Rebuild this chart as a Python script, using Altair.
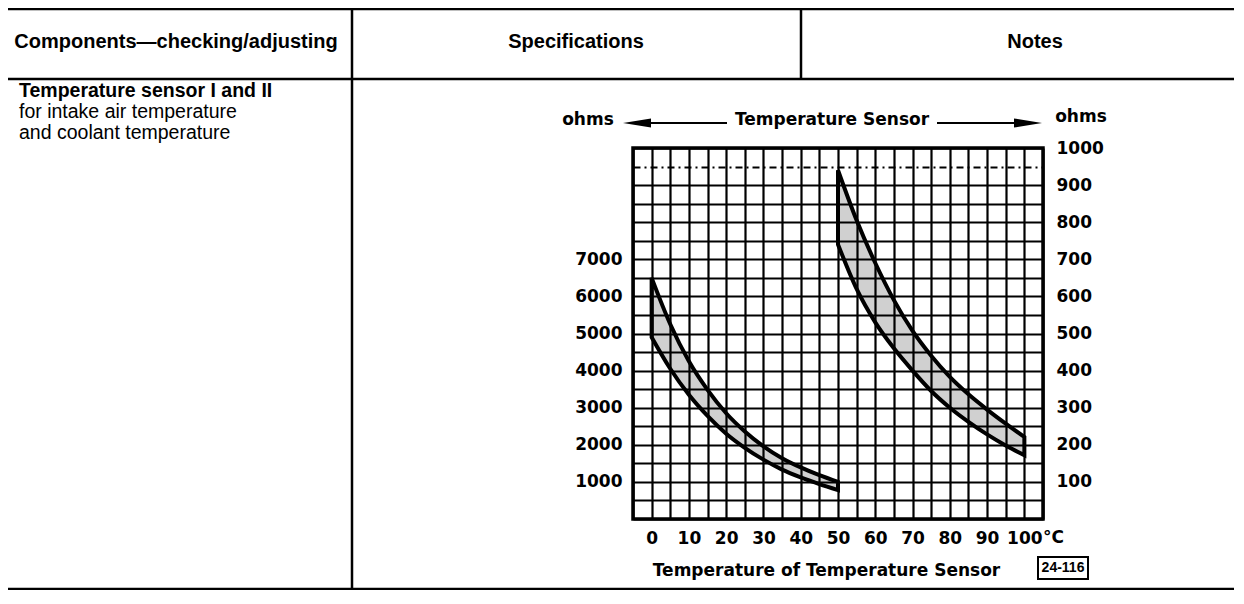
import json
import altair as alt
import pandas as pd

# ---- data ----
temp_left = [0, 5, 10, 15, 20, 25, 30, 35, 40, 45, 50]
left_upper = [6500, 5250, 4250, 3480, 2850, 2360, 1960, 1640, 1390, 1180, 1000]
left_lower = [4900, 4050, 3350, 2780, 2300, 1920, 1600, 1330, 1120, 940, 780]

temp_right = [50, 55, 60, 65, 70, 75, 80, 85, 90, 95, 100]
right_upper = [940, 805, 690, 590, 507, 440, 383, 336, 295, 257, 221]
right_lower = [740, 620, 530, 460, 400, 345, 300, 262, 228, 198, 172]

x_grid = [-5, 0, 5, 10, 15, 20, 25, 30, 35, 40, 45, 50, 55, 60, 65, 70, 75, 80, 85, 90, 95, 100, 105]
x_labels = [0, 10, 20, 30, 40, 50, 60, 70, 80, 90, 100]
left_grid = [0, 500, 1000, 1500, 2000, 2500, 3000, 3500, 4000, 4500, 5000,
             5500, 6000, 6500, 7000, 7500, 8000, 8500, 9000, 9500, 10000]
left_labels = [1000, 2000, 3000, 4000, 5000, 6000, 7000]
right_labels = [100, 200, 300, 400, 500, 600, 700, 800, 900, 1000]

header_texts = ["Components\u2014checking/adjusting", "Specifications", "Notes"]
body_lines = ["Temperature sensor I and II", "for intake air temperature", "and coolant temperature"]

df_left = pd.DataFrame({"t": temp_left, "hi": left_upper, "lo": left_lower})
df_right = pd.DataFrame({"t": temp_right, "hi": right_upper, "lo": right_lower})

CF = "DejaVu Sans"
TF = "Liberation Sans"
W, H = 410, 371

x_enc = alt.X(
    "t:Q",
    scale=alt.Scale(domain=[-5, 105], nice=False, zero=False),
    axis=alt.Axis(
        values=x_grid,
        labelExpr="indexof(" + json.dumps(x_labels) + ", datum.value) >= 0 ? datum.label : ''",
        format="d",
        grid=True, gridColor="black", gridWidth=2.2, gridOpacity=1,
        ticks=False, domain=False,
        labelPadding=19, labelBaseline="middle",
        labelFont=CF, labelFontSize=17, labelFontWeight="bold", labelColor="black",
        labelFlush=False, labelOverlap=False,
        title="Temperature of Temperature Sensor",
        titleX=193, titleY=51, titleAlign="center", titleBaseline="middle",
        titleFont=CF, titleFontSize=17, titleFontWeight="bold", titleColor="black",
        zindex=1,
    ),
)

left_axis = alt.Axis(
    values=left_grid,
    labelExpr="indexof(" + json.dumps(left_labels) + ", datum.value) >= 0 ? datum.label : ''",
    format="d",
    grid=True, gridColor="black", gridWidth=2.2, gridOpacity=1,
    gridDash={"condition": {"test": "datum.value == 9500", "value": [7, 4, 2, 4]}, "value": []},
    ticks=False, domain=False,
    labelPadding=11,
    labelFont=CF, labelFontSize=17, labelFontWeight="bold", labelColor="black",
    labelFlush=False, labelOverlap=False,
    title=None, zindex=1,
)

right_axis = alt.Axis(
    orient="right",
    values=right_labels,
    format="d",
    grid=False, ticks=False, domain=False,
    labelPadding=13,
    labelFont=CF, labelFontSize=17, labelFontWeight="bold", labelColor="black",
    labelFlush=False, labelOverlap=False,
    title=None,
)

band_style = dict(interpolate="monotone", fill="#d0d0d0", stroke="black", strokeWidth=4, strokeJoin="miter")

left_band = alt.Chart(df_left).mark_area(**band_style).encode(
    x=x_enc,
    y=alt.Y("hi:Q", scale=alt.Scale(domain=[0, 10000], nice=False, zero=True), axis=left_axis),
    y2="lo:Q",
)
right_band = alt.Chart(df_right).mark_area(**band_style).encode(
    x=x_enc,
    y=alt.Y("hi:Q", scale=alt.Scale(domain=[0, 1000], nice=False, zero=True), axis=right_axis),
    y2="lo:Q",
)

one = alt.Data(values=[{"k": 0}])


def txt(text, x, y, size, weight="normal", align="center", font=CF):
    return alt.Chart(one).mark_text(
        text=text, align=align, baseline="middle", font=font,
        fontSize=size, fontWeight=weight, color="black",
    ).encode(x=alt.value(x), y=alt.value(y))


def hline(x1, x2, y, w=2.5):
    return alt.Chart(one).mark_rule(color="black", strokeWidth=w).encode(
        x=alt.value(x1), x2=alt.value(x2), y=alt.value(y))


def vline(x, y1, y2, w=2.5):
    return alt.Chart(one).mark_rule(color="black", strokeWidth=w).encode(
        x=alt.value(x), y=alt.value(y1), y2=alt.value(y2))


border = alt.Chart(one).mark_rect(filled=False, stroke="black", strokeWidth=3.5).encode(
    x=alt.value(0), x2=alt.value(W), y=alt.value(0), y2=alt.value(H))

arrow_l = alt.Chart(one).mark_point(
    shape="M -1 0 L 1 -0.33 L 1 0.33 Z", size=784, filled=True, color="black", opacity=1, strokeWidth=0
).encode(x=alt.value(4), y=alt.value(-25))
arrow_r = alt.Chart(one).mark_point(
    shape="M 1 0 L -1 -0.33 L -1 0.33 Z", size=784, filled=True, color="black", opacity=1, strokeWidth=0
).encode(x=alt.value(395), y=alt.value(-25))

fig_box = alt.Chart(one).mark_rect(filled=False, stroke="black", strokeWidth=2).encode(
    x=alt.value(405), x2=alt.value(455), y=alt.value(409), y2=alt.value(431))

layers = [
    left_band, right_band, border,
    # table frame
    hline(-625, 601, -139), hline(-625, 601, -69), hline(-625, 601, 441),
    vline(-281, -140, 441), vline(168, -140, -69),
    # table text
    txt(header_texts[0], -457, -106, 20, "bold", font=TF),
    txt(header_texts[1], -57, -106, 20, "bold", font=TF),
    txt(header_texts[2], 402, -106, 20, "bold", font=TF),
    txt(body_lines[0], -614, -57, 19.5, "bold", "left", TF),
    txt(body_lines[1], -614, -36, 19.5, "normal", "left", TF),
    txt(body_lines[2], -614, -15, 19.5, "normal", "left", TF),
    # chart annotations
    txt("ohms", -45, -28, 17, "bold"),
    txt("Temperature Sensor", 199, -28, 17, "bold"),
    txt("ohms", 448, -31, 17, "bold"),
    hline(18, 94, -25, 2), hline(304, 381, -25, 2),
    arrow_l, arrow_r,
    txt("\u00b0C", 410, 390, 17, "bold", "left"),
    fig_box,
    txt("24-116", 430, 420, 14, "bold", font=TF),
]

chart = alt.layer(*layers).resolve_scale(y="independent").properties(
    width=W, height=H,
    padding={"left": 625, "top": 140, "right": 191, "bottom": 71},
    autosize=alt.AutoSizeParams(type="none"),
    background="white",
).configure_view(strokeWidth=0)

chart.save("out.html", embed_options={"renderer": "svg", "actions": False})
